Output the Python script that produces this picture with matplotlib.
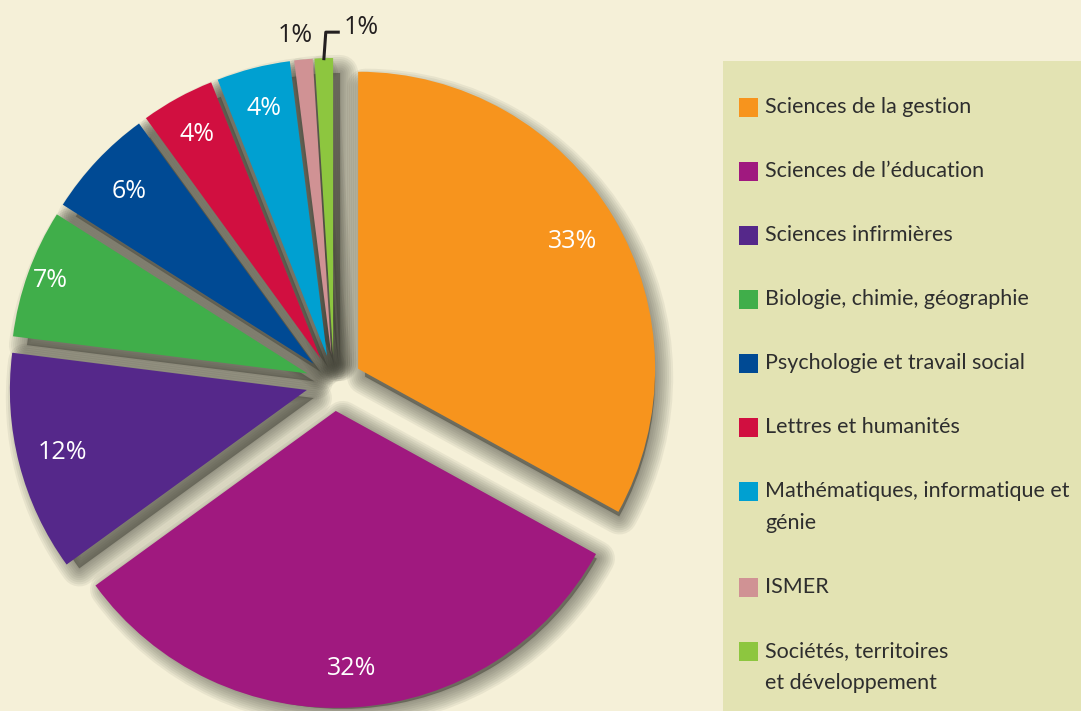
import numpy as np
import matplotlib
matplotlib.use("Agg")
import matplotlib.pyplot as plt
from matplotlib.patches import Wedge, Rectangle

# DATA
programmes = [
    "Sciences de la gestion",
    "Sciences de l\u2019éducation",
    "Sciences infirmières",
    "Biologie, chimie, géographie",
    "Psychologie et travail social",
    "Lettres et humanités",
    "Mathématiques, informatique et\ngénie",
    "ISMER",
    "Sociétés, territoires\net développement",
]
shares = [33, 32, 12, 7, 6, 4, 4, 1, 1]
pct_labels = ["33%", "32%", "12%", "7%", "6%", "4%", "4%", "1%", "1%"]

colors = ["#F7941D", "#A0197F", "#55288A", "#40AE4A", "#004A94",
          "#D10F40", "#00A0D1", "#D09294", "#8DC63F"]
label_colors = ["white"] * 7 + ["#231F20", "#231F20"]
label_dist = [0.84, 0.87, 0.85, 0.92, 0.85, 0.86, 0.86, 1.08, None]

BG = "#F5F0D8"
W, H = 1081, 711

fig = plt.figure(figsize=(W / 100, H / 100), dpi=100, facecolor=BG)
ax = fig.add_axes([0, 0, 1, 1])
ax.set_facecolor(BG)

# pie in pixel units (y up), explode is in data units here
cx, cy, R = 334, H - 383, 297
wedges, _ = ax.pie(shares, colors=colors, startangle=90, counterclock=False,
                   explode=[28] * len(shares), center=(cx, cy), radius=R,
                   wedgeprops=dict(linewidth=0, zorder=3))

# soft drop shadows (stacked strokes to fake a blur)
for w in wedges:
    for lw in range(26, 0, -3):
        sh = Wedge((w.center[0] + 7, w.center[1] - 8), w.r - 7, w.theta1, w.theta2,
                   facecolor="none", edgecolor="#3C3C32", linewidth=lw,
                   alpha=0.07, zorder=1, joinstyle="round")
        ax.add_patch(sh)
    ax.add_patch(Wedge((w.center[0] + 7, w.center[1] - 8), w.r - 7, w.theta1, w.theta2,
                       facecolor="#3C3C32", edgecolor="none", alpha=0.5, zorder=1))

# percentage labels
pct_font = dict(family=["Open Sans", "DejaVu Sans"], fontsize=18)
for i, w in enumerate(wedges):
    mid = np.deg2rad((w.theta1 + w.theta2) / 2)
    if label_dist[i] is not None:
        x = w.center[0] + w.r * label_dist[i] * np.cos(mid)
        y = w.center[1] + w.r * label_dist[i] * np.sin(mid)
        if i == 7:
            x -= 6
        ax.text(x, y, pct_labels[i], ha="center", va="center",
                color=label_colors[i], zorder=5, **pct_font)
    else:
        # leader line for the last small slice
        tx = w.center[0] + w.r * np.cos(mid)
        ty = w.center[1] + w.r * np.sin(mid)
        ax.plot([tx, tx + 2, tx + 16], [ty - 2, ty + 26, ty + 26],
                color="#231F20", lw=2.2, zorder=5, solid_capstyle="butt")
        ax.text(tx + 20, ty + 31, pct_labels[i], ha="left", va="center",
                color=label_colors[i], zorder=5, **pct_font)

ax.set_xlim(0, W)
ax.set_ylim(0, H)
ax.set_aspect("equal", adjustable="datalim")
ax.axis("off")

# legend panel
ax.add_patch(Rectangle((723, 0), W - 723, H - 61, facecolor="#E3E3B3",
                       edgecolor="none", zorder=0))

leg_font = dict(family=["Lato", "DejaVu Sans"], fontsize=15.5, color="#2E2E2E")
y = H - 107
for name, col in zip(programmes, colors):
    ax.add_patch(Rectangle((739, y - 9.5), 19, 19, facecolor=col,
                           edgecolor="none", zorder=4))
    ax.text(765, y, name.split("\n")[0], ha="left", va="center", zorder=4, **leg_font)
    extra = name.split("\n")[1:]
    for k, line in enumerate(extra):
        ax.text(765, y - 32 * (k + 1), line, ha="left", va="center", zorder=4, **leg_font)
    y -= 64 + 32 * len(extra)

fig.savefig("out.png", dpi=100, facecolor=BG)
